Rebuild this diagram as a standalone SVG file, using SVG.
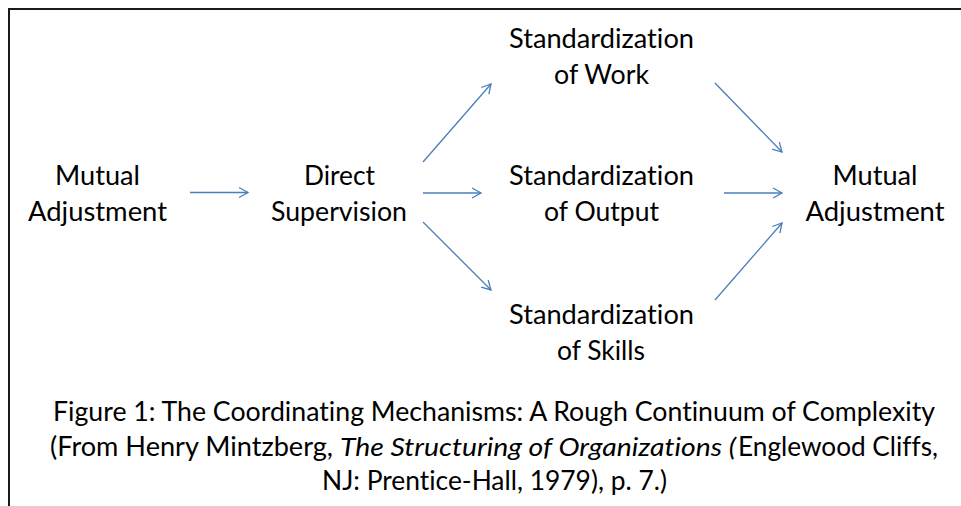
<svg xmlns="http://www.w3.org/2000/svg" width="961" height="506" viewBox="0 0 961 506">
  <style>
    .lbl { font-family: Lato, "Open Sans", "Liberation Sans", sans-serif; font-size: 26px; fill: #000; font-variant-ligatures: none; font-feature-settings: "liga" 0, "clig" 0; }
    .it { font-style: italic; }
    .conn { stroke: #4a7ebb; stroke-width: 1.3; fill: none; marker-end: url(#head); }
    .frame { stroke: #1a1a1a; stroke-width: 2; fill: none; }
  </style>
  <defs>
    <marker id="head" markerUnits="userSpaceOnUse" markerWidth="14" markerHeight="14" viewBox="-11 -7 14 14" refX="0" refY="0" orient="auto">
      <path d="M-9,-5 L0,0 L-9,5" stroke="#4a7ebb" stroke-width="1.3" fill="none"/>
    </marker>
  </defs>

  <rect width="961" height="506" fill="#fff"/>
  <!-- open frame: left and top edges only -->
  <path class="frame" d="M9,506 V9 H961"/>

  <g id="mutual-adjustment-start">
    <text class="lbl" x="55" y="185" textLength="85" lengthAdjust="spacingAndGlyphs">Mutual</text>
    <text class="lbl" x="28" y="220.5" textLength="139" lengthAdjust="spacingAndGlyphs">Adjustment</text>
  </g>

  <g id="direct-supervision">
    <text class="lbl" x="304" y="185" textLength="71" lengthAdjust="spacingAndGlyphs">Direct</text>
    <text class="lbl" x="271" y="220.5" textLength="136" lengthAdjust="spacingAndGlyphs">Supervision</text>
  </g>

  <g id="std-work">
    <text class="lbl" x="509" y="48" textLength="185" lengthAdjust="spacingAndGlyphs">Standardization</text>
    <text class="lbl" x="554" y="83.5" textLength="95" lengthAdjust="spacingAndGlyphs">of Work</text>
  </g>

  <g id="std-output">
    <text class="lbl" x="509" y="185" textLength="185" lengthAdjust="spacingAndGlyphs">Standardization</text>
    <text class="lbl" x="544" y="220.5" textLength="115" lengthAdjust="spacingAndGlyphs">of Output</text>
  </g>

  <g id="std-skills">
    <text class="lbl" x="509" y="324" textLength="185" lengthAdjust="spacingAndGlyphs">Standardization</text>
    <text class="lbl" x="557" y="359.5" textLength="88" lengthAdjust="spacingAndGlyphs">of Skills</text>
  </g>

  <g id="mutual-adjustment-end">
    <text class="lbl" x="832.5" y="185" textLength="85" lengthAdjust="spacingAndGlyphs">Mutual</text>
    <text class="lbl" x="805.5" y="220.5" textLength="139" lengthAdjust="spacingAndGlyphs">Adjustment</text>
  </g>

  <g id="connectors">
    <line class="conn" x1="190" y1="192.5" x2="248" y2="192.5"/>
    <line class="conn" x1="423" y1="162" x2="491" y2="84"/>
    <line class="conn" x1="423" y1="193" x2="481" y2="193"/>
    <line class="conn" x1="423" y1="222" x2="491" y2="290"/>
    <line class="conn" x1="715" y1="83" x2="782" y2="152"/>
    <line class="conn" x1="724" y1="193" x2="782" y2="193"/>
    <line class="conn" x1="715" y1="300" x2="782" y2="223"/>
  </g>

  <g id="caption">
    <text class="lbl" x="53" y="421" textLength="882" lengthAdjust="spacingAndGlyphs">Figure 1: The Coordinating Mechanisms: A Rough Continuum of Complexity</text>
    <text class="lbl" x="50" y="455.5" textLength="283" lengthAdjust="spacingAndGlyphs">(From Henry Mintzberg,</text>
    <text class="lbl it" x="340" y="455.5" textLength="396" lengthAdjust="spacingAndGlyphs">The Structuring of Organizations (</text>
    <text class="lbl" x="738" y="455.5" textLength="200" lengthAdjust="spacingAndGlyphs">Englewood Cliffs,</text>
    <text class="lbl" x="322" y="490" textLength="345" lengthAdjust="spacingAndGlyphs">NJ: Prentice-Hall, 1979), p. 7.)</text>
  </g>
</svg>
